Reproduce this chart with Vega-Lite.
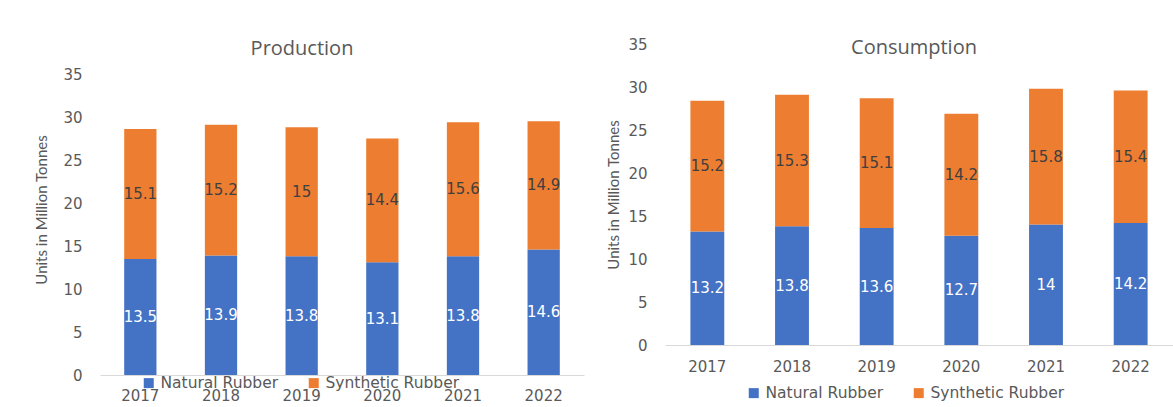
{
  "$schema": "https://vega.github.io/schema/vega-lite/v6.json",
  "background": "white",
  "padding": {"left": 34, "top": 37, "right": 0, "bottom": 0},
  "spacing": 22,
  "datasets": {
    "rubber": [
      {"panel": "Production", "year": "2017", "type": "Natural Rubber", "value": 13.5},
      {"panel": "Production", "year": "2017", "type": "Synthetic Rubber", "value": 15.1},
      {"panel": "Production", "year": "2018", "type": "Natural Rubber", "value": 13.9},
      {"panel": "Production", "year": "2018", "type": "Synthetic Rubber", "value": 15.2},
      {"panel": "Production", "year": "2019", "type": "Natural Rubber", "value": 13.8},
      {"panel": "Production", "year": "2019", "type": "Synthetic Rubber", "value": 15},
      {"panel": "Production", "year": "2020", "type": "Natural Rubber", "value": 13.1},
      {"panel": "Production", "year": "2020", "type": "Synthetic Rubber", "value": 14.4},
      {"panel": "Production", "year": "2021", "type": "Natural Rubber", "value": 13.8},
      {"panel": "Production", "year": "2021", "type": "Synthetic Rubber", "value": 15.6},
      {"panel": "Production", "year": "2022", "type": "Natural Rubber", "value": 14.6},
      {"panel": "Production", "year": "2022", "type": "Synthetic Rubber", "value": 14.9},
      {"panel": "Consumption", "year": "2017", "type": "Natural Rubber", "value": 13.2},
      {"panel": "Consumption", "year": "2017", "type": "Synthetic Rubber", "value": 15.2},
      {"panel": "Consumption", "year": "2018", "type": "Natural Rubber", "value": 13.8},
      {"panel": "Consumption", "year": "2018", "type": "Synthetic Rubber", "value": 15.3},
      {"panel": "Consumption", "year": "2019", "type": "Natural Rubber", "value": 13.6},
      {"panel": "Consumption", "year": "2019", "type": "Synthetic Rubber", "value": 15.1},
      {"panel": "Consumption", "year": "2020", "type": "Natural Rubber", "value": 12.7},
      {"panel": "Consumption", "year": "2020", "type": "Synthetic Rubber", "value": 14.2},
      {"panel": "Consumption", "year": "2021", "type": "Natural Rubber", "value": 14},
      {"panel": "Consumption", "year": "2021", "type": "Synthetic Rubber", "value": 15.8},
      {"panel": "Consumption", "year": "2022", "type": "Natural Rubber", "value": 14.2},
      {"panel": "Consumption", "year": "2022", "type": "Synthetic Rubber", "value": 15.4}
    ]
  },
  "resolve": {"scale": {"color": "independent"}, "legend": {"color": "independent"}},
  "hconcat": [
    {
      "width": 484,
      "height": 331,
      "title": {"text": "Production", "offset": -15, "dx": -40},
      "data": {"name": "rubber"},
      "transform": [
        {"filter": "datum.panel == 'Production'"},
        {"stack": "value", "groupby": ["year"], "sort": [{"field": "type", "order": "ascending"}], "as": ["v0", "v1"]},
        {"calculate": "(datum.v0 + datum.v1) / 2", "as": "mid"}
      ],
      "encoding": {
        "x": {
          "field": "year", "type": "ordinal",
          "scale": {"paddingInner": 0.6, "paddingOuter": 0.3},
          "axis": {"labelPadding": 13}
        }
      },
      "layer": [
        {
          "mark": {"type": "bar"},
          "encoding": {
            "y": {
              "field": "v0", "type": "quantitative",
              "scale": {"domain": [0, 38.49], "nice": false},
              "axis": {"values": [0, 5, 10, 15, 20, 25, 30, 35], "title": "Units in Million Tonnes", "titlePadding": 13}
            },
            "y2": {"field": "v1"},
            "color": {
              "field": "type", "type": "nominal",
              "scale": {"domain": ["Natural Rubber", "Synthetic Rubber"], "range": ["#4472C4", "#ED7D31"]},
              "legend": {"orient": "none", "direction": "horizontal", "legendX": 41, "legendY": 331}
            }
          }
        },
        {
          "transform": [{"filter": "datum.type == 'Natural Rubber'"}],
          "mark": {"type": "text", "color": "#FFFFFF"},
          "encoding": {"y": {"field": "mid", "type": "quantitative"}, "text": {"field": "value", "type": "quantitative"}}
        },
        {
          "transform": [{"filter": "datum.type == 'Synthetic Rubber'"}],
          "mark": {"type": "text", "color": "#404040"},
          "encoding": {"y": {"field": "mid", "type": "quantitative"}, "text": {"field": "value", "type": "quantitative"}}
        }
      ]
    },
    {
      "width": 508,
      "height": 301,
      "title": {"text": "Consumption", "offset": -21, "dx": -5},
      "data": {"name": "rubber"},
      "transform": [
        {"filter": "datum.panel == 'Consumption'"},
        {"stack": "value", "groupby": ["year"], "sort": [{"field": "type", "order": "ascending"}], "as": ["v0", "v1"]},
        {"calculate": "(datum.v0 + datum.v1) / 2", "as": "mid"}
      ],
      "encoding": {
        "x": {
          "field": "year", "type": "ordinal",
          "scale": {"paddingInner": 0.6, "paddingOuter": 0.3},
          "axis": {"labelPadding": 14}
        }
      },
      "layer": [
        {
          "mark": {"type": "bar"},
          "encoding": {
            "y": {
              "field": "v0", "type": "quantitative",
              "scale": {"domain": [0, 35], "nice": false},
              "axis": {"values": [0, 5, 10, 15, 20, 25, 30, 35], "title": "Units in Million Tonnes", "titlePadding": 6}
            },
            "y2": {"field": "v1"},
            "color": {
              "field": "type", "type": "nominal",
              "scale": {"domain": ["Natural Rubber", "Synthetic Rubber"], "range": ["#4472C4", "#ED7D31"]},
              "legend": {"orient": "none", "direction": "horizontal", "legendX": 81, "legendY": 341}
            }
          }
        },
        {
          "transform": [{"filter": "datum.type == 'Natural Rubber'"}],
          "mark": {"type": "text", "color": "#FFFFFF"},
          "encoding": {"y": {"field": "mid", "type": "quantitative"}, "text": {"field": "value", "type": "quantitative"}}
        },
        {
          "transform": [{"filter": "datum.type == 'Synthetic Rubber'"}],
          "mark": {"type": "text", "color": "#404040"},
          "encoding": {"y": {"field": "mid", "type": "quantitative"}, "text": {"field": "value", "type": "quantitative"}}
        }
      ]
    }
  ],
  "config": {
    "view": {"stroke": null},
    "title": {"font": "Open Sans", "fontSize": 20, "fontWeight": "normal", "color": "#595959", "anchor": "middle", "frame": "group"},
    "text": {"font": "DejaVu Sans", "fontSize": 15},
    "axis": {
      "labelFont": "DejaVu Sans", "labelFontSize": 15, "labelColor": "#595959",
      "titleFont": "Lato", "titleFontSize": 15, "titleFontWeight": "normal", "titleColor": "#595959",
      "ticks": false, "grid": false
    },
    "axisX": {"title": null, "labelAngle": 0, "domainColor": "#D9D9D9", "domainWidth": 1},
    "axisY": {"domain": false, "labelPadding": 18},
    "legend": {
      "title": null, "labelFont": "DejaVu Sans", "labelFontSize": 15.5, "labelColor": "#595959",
      "symbolType": "square", "symbolSize": 100, "symbolStrokeWidth": 0, "symbolOpacity": 1,
      "columnPadding": 27, "labelOffset": 4
    }
  }
}
